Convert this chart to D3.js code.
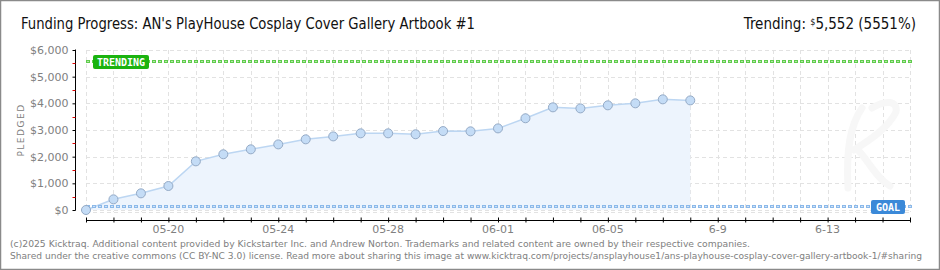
<!DOCTYPE html>
<html>
<head>
<meta charset="utf-8">
<script src="https://cdn.jsdelivr.net/npm/d3@7"></script>
<style>
  body { margin: 0; background: #fff; }
  svg { display: block; }
</style>
</head>
<body>
<div id="chart"></div>
<script>
// data
const startDate = "2025-05-17";
const endDate = "2025-06-16";
const pledged = [0, 400, 625, 900, 1825, 2090, 2275, 2460, 2650, 2760, 2875, 2875, 2840, 2960, 2950, 3060, 3440, 3850, 3810, 3925, 4000, 4150, 4110];
const goal = 100;
const trending = 5552;
const yTicks = [0, 1000, 2000, 3000, 4000, 5000, 6000];
const yMinorTicks = [500, 1500, 2500, 3500, 4500, 5500];
const xLabels = [["2025-05-20", "05-20"], ["2025-05-24", "05-24"], ["2025-05-28", "05-28"], ["2025-06-01", "06-01"], ["2025-06-05", "06-05"], ["2025-06-09", "6-9"], ["2025-06-13", "6-13"]];

const W = 940, H = 270;
const parse = d3.utcParse("%Y-%m-%d");
const t0 = parse(startDate);
const days = d3.utcDay.range(t0, d3.utcDay.offset(parse(endDate), 1));
const points = pledged.map((v, i) => ({ date: days[i], value: v }));

const x = d3.scaleUtc().domain([t0, parse(endDate)]).range([86, 910]);
const y = d3.scaleLinear().domain([0, 6000]).range([210, 50]);

const svg = d3.select("#chart").append("svg")
    .attr("width", W)
    .attr("height", H);

svg.append("rect")
    .attr("x", 0.5).attr("y", 0.5)
    .attr("width", W - 1).attr("height", H - 1)
    .style("fill", "#fff")
    .style("stroke", "#8a8a8a")
    .style("stroke-width", "1.5px");

// title
svg.append("text")
    .attr("x", 21).attr("y", 29)
    .attr("textLength", 454)
    .attr("lengthAdjust", "spacingAndGlyphs")
    .style("font-family", "'DejaVu Sans Condensed', 'DejaVu Sans'")
    .style("font-size", "15px")
    .style("fill", "#111")
    .text("Funding Progress: AN's PlayHouse Cosplay Cover Gallery Artbook #1");

const trend = svg.append("text")
    .attr("x", 916).attr("y", 29)
    .attr("text-anchor", "end")
    .style("font-family", "'DejaVu Sans Condensed', 'DejaVu Sans'")
    .style("font-size", "15px")
    .style("fill", "#111");
trend.append("tspan").text("Trending:  ");
trend.append("tspan").attr("dy", -4).style("font-size", "9px").text("$");
trend.append("tspan").attr("dy", 4).text("5,552 (5551%)");

// grid
const grid = svg.append("g").style("stroke", "#e2e2e2").style("stroke-dasharray", "4,3").style("stroke-width", "1px");
grid.selectAll(".hgrid").data(yTicks).enter().append("line")
    .attr("x1", 86).attr("x2", 910)
    .attr("y1", d => Math.round(y(d)) + 0.5).attr("y2", d => Math.round(y(d)) + 0.5);
grid.selectAll(".vgrid").data(days).enter().append("line")
    .attr("x1", d => Math.round(x(d)) + 0.5).attr("x2", d => Math.round(x(d)) + 0.5)
    .attr("y1", 50).attr("y2", 212);
grid.append("line").attr("x1", 86).attr("x2", 910).attr("y1", 212.5).attr("y2", 212.5);

// faint watermark
svg.append("path")
    .attr("d", "M862,108 C850,125 846,150 848,188 M854,150 C870,140 888,128 896,112 C898,100 885,100 872,108 M858,150 C868,160 876,178 890,186")
    .style("fill", "none")
    .style("stroke", "#f7f7f7")
    .style("stroke-width", "7px")
    .style("stroke-linecap", "round");

// area + line
svg.append("path")
    .datum(points)
    .attr("d", d3.area().x(d => x(d.date)).y0(y(0)).y1(d => y(d.value)))
    .style("fill", "#edf4fd");
svg.append("path")
    .datum(points)
    .attr("d", d3.line().x(d => x(d.date)).y(d => y(d.value)))
    .style("fill", "none")
    .style("stroke", "#bcd6f2")
    .style("stroke-width", "1.5px");

// goal and trending lines
function refLine(v, light, dark) {
    svg.append("line")
        .attr("x1", 86).attr("x2", 912)
        .attr("y1", Math.round(y(v)) - 0.5).attr("y2", Math.round(y(v)) - 0.5)
        .style("stroke", dark).style("stroke-width", "3px").style("stroke-dasharray", "4,2");
    svg.append("line")
        .attr("x1", 87).attr("x2", 912)
        .attr("y1", Math.round(y(v)) - 0.5).attr("y2", Math.round(y(v)) - 0.5)
        .style("stroke", light).style("stroke-width", "1px").style("stroke-dasharray", "2,4");
}
refLine(trending, "#b6e6a8", "#5fcc4c");
refLine(goal, "#cfe2f7", "#8bb9ea");

// points
svg.selectAll(".pt").data(points).enter().append("circle")
    .attr("cx", d => x(d.date)).attr("cy", d => y(d.value))
    .attr("r", 4.5)
    .style("fill", "#c4dcf6")
    .style("stroke", "#94aac6")
    .style("stroke-width", "1px");

// badges
function badge(bx, by, w, fill, label) {
    svg.append("rect")
        .attr("x", bx).attr("y", by).attr("width", w).attr("height", 14)
        .attr("rx", 2)
        .style("fill", fill);
    svg.append("text")
        .attr("x", bx + w / 2).attr("y", by + 11)
        .attr("text-anchor", "middle")
        .style("font-family", "'DejaVu Sans Mono'")
        .style("font-size", "10px")
        .style("font-weight", "bold")
        .style("fill", "#fff")
        .text(label);
}
badge(93, 55, 56, "#1bb30f", "TRENDING");
badge(871, 200, 34, "#3b89d8", "GOAL");

// y axis
const yAxis = svg.append("g").attr("transform", "translate(75.5,0)");
yAxis.call(d3.axisLeft(y).tickValues(yTicks).tickSize(3).tickPadding(4).tickFormat(d => "$" + d3.format(",")(d)));
yAxis.select(".domain").attr("d", "M0," + (y(6000) - 0.5) + "V" + (y(0) + 0.5)).style("stroke", "#000");
yAxis.selectAll(".tick line").style("stroke", "#000");
yAxis.selectAll(".tick text")
    .style("font-family", "'DejaVu Sans'")
    .style("font-size", "11px")
    .style("fill", "#808080");
yAxis.selectAll(".minor").data(yMinorTicks).enter().append("line")
    .attr("x1", -3).attr("x2", 0)
    .attr("y1", d => Math.round(y(d)) + 0.5).attr("y2", d => Math.round(y(d)) + 0.5)
    .style("stroke", "#e00000");

svg.append("text")
    .attr("transform", "translate(24,130) rotate(-90)")
    .attr("text-anchor", "middle")
    .style("font-family", "'DejaVu Sans'")
    .style("font-size", "9px")
    .style("letter-spacing", "1.5px")
    .style("fill", "#808080")
    .text("PLEDGED");

// x axis
const xAxis = svg.append("g").attr("transform", "translate(0,220.5)");
xAxis.call(d3.axisBottom(x).tickValues(days).tickSize(3).tickFormat(""));
xAxis.select(".domain").attr("d", "M86,0H910").style("stroke", "#000");
xAxis.selectAll(".tick line").attr("y1", -3).attr("y2", 2).style("stroke", "#000");
xAxis.selectAll(".lbl").data(xLabels).enter().append("text")
    .attr("x", d => x(parse(d[0])))
    .attr("y", 12)
    .attr("text-anchor", "middle")
    .style("font-family", "'DejaVu Sans'")
    .style("font-size", "11px")
    .style("fill", "#808080")
    .text(d => d[1]);

// footer
const foot = [
    "(c)2025 Kicktraq. Additional content provided by Kickstarter Inc. and Andrew Norton. Trademarks and related content are owned by their respective companies.",
    "Shared under the creative commons (CC BY-NC 3.0) license. Read more about sharing this image at www.kicktraq.com/projects/ansplayhouse1/ans-playhouse-cosplay-cover-gallery-artbook-1/#sharing"
];
svg.selectAll(".foot").data(foot).enter().append("text")
    .attr("x", 10)
    .attr("y", (d, i) => 247 + i * 12)
    .attr("textLength", (d, i) => i === 0 ? 740 : 912)
    .attr("lengthAdjust", "spacingAndGlyphs")
    .style("font-family", "'DejaVu Sans'")
    .style("font-size", (d, i) => i === 0 ? "9.3px" : "9px")
    .style("fill", "#808080")
    .text(d => d);
</script>
</body>
</html>
